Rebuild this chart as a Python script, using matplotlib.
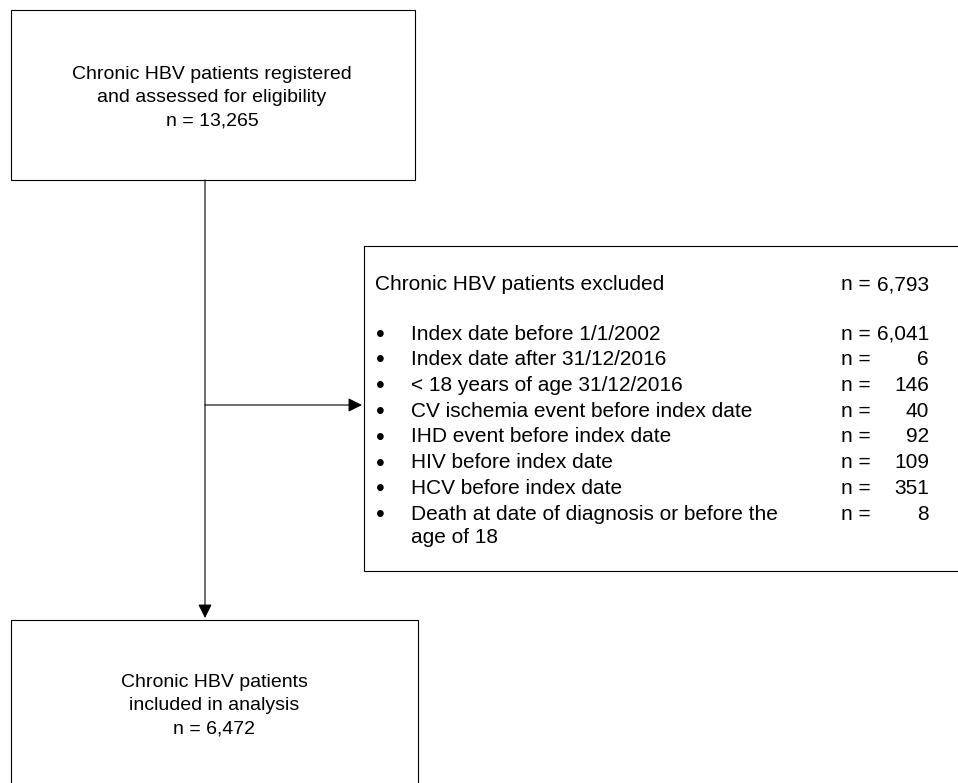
import matplotlib
matplotlib.use('Agg')
import matplotlib.pyplot as plt
from matplotlib.patches import Rectangle

plt.rcParams['font.family'] = ['Liberation Sans', 'DejaVu Sans']

# flow numbers
top_lines = ["Chronic HBV patients registered", "and assessed for eligibility", "n = 13,265"]
bottom_lines = ["Chronic HBV patients", "included in analysis", "n = 6,472"]
excluded_title = "Chronic HBV patients excluded"
excluded_total = "6,793"
reasons = [
    "Index date before 1/1/2002",
    "Index date after 31/12/2016",
    "< 18 years of age 31/12/2016",
    "CV ischemia event before index date",
    "IHD event before index date",
    "HIV before index date",
    "HCV before index date",
    "Death at date of diagnosis or before the",
]
reason_counts = ["6,041", "6", "146", "40", "92", "109", "351", "8"]
reason_tail = "age of 18"

W, H = 958, 783
fig = plt.figure(figsize=(W / 100, H / 100), dpi=100)
ax = fig.add_axes([0, 0, 1, 1])
ax.set_xlim(0, W)
ax.set_ylim(H, 0)
ax.axis('off')

lw = 0.8
fs_box = 14
fs_list = 15

def box(x0, y0, x1, y1):
    ax.add_patch(Rectangle((x0, y0), x1 - x0, y1 - y0, fill=False,
                           edgecolor='black', lw=lw))

# boxes
box(11, 10, 415, 180)
box(364, 246, 975, 571)
box(11, 620, 418, 800)

# connectors
arrow = dict(arrowstyle='-|>', color='black', lw=lw,
             mutation_scale=21, shrinkA=0, shrinkB=0)
ax.annotate('', xy=(205, 618), xytext=(205, 180), arrowprops=arrow)
ax.annotate('', xy=(362, 405), xytext=(205, 405), arrowprops=arrow)

# top box text (baselines)
for i, t in enumerate(top_lines):
    ax.text(212, 79 + i * 23, t, ha='center', va='baseline', fontsize=fs_box)

# bottom box text
for i, t in enumerate(bottom_lines):
    ax.text(214.5, 687 + i * 23, t, ha='center', va='baseline', fontsize=fs_box)

# exclusion box text
hy = 290.5
ax.text(375, hy, excluded_title, ha='left', va='baseline', fontsize=fs_list)
ax.text(841, hy, "n =", ha='left', va='baseline', fontsize=fs_list)
ax.text(929, hy, excluded_total, ha='right', va='baseline', fontsize=fs_list)

row_y = [339.5, 365, 391, 417, 442.5, 468, 493.5, 519.5]
for y, r, c in zip(row_y, reasons, reason_counts):
    ax.text(380, y + 2.5, "\u2022", ha='center', va='baseline', fontsize=18)
    ax.text(411, y, r, ha='left', va='baseline', fontsize=fs_list)
    ax.text(841, y, "n =", ha='left', va='baseline', fontsize=fs_list)
    ax.text(929, y, c, ha='right', va='baseline', fontsize=fs_list)
ax.text(411, 543, reason_tail, ha='left', va='baseline', fontsize=fs_list)

fig.savefig('out.png', dpi=100, facecolor='white')
